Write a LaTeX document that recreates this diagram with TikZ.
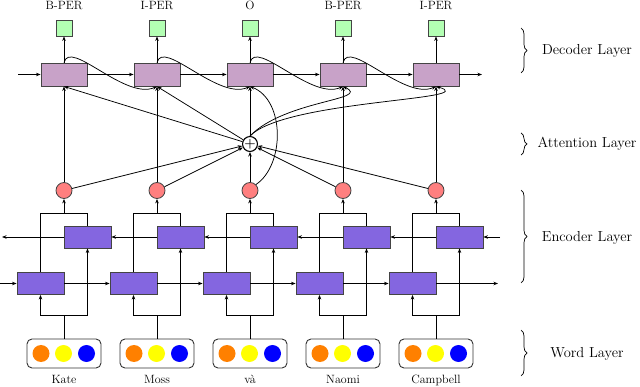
\documentclass[tikz,border=0pt]{standalone}
\usepackage{fontspec}
\usetikzlibrary{arrows.meta,decorations.pathreplacing,calc}
\definecolor{decfill}{HTML}{C8A2C8}
\definecolor{encfill}{HTML}{8466E0}
\definecolor{redc}{HTML}{FF7F7F}
\definecolor{greenc}{HTML}{B3FFB3}
\definecolor{orangec}{HTML}{FF8000}
\definecolor{yellowc}{HTML}{FFFF00}
\definecolor{bluec}{HTML}{0000FF}
\definecolor{edgec}{HTML}{444444}
\begin{document}
\begin{tikzpicture}[x=1pt,y=-1pt,
  >={Stealth[length=4.5pt,width=3.5pt]},
  conn/.style={->,line width=0.75pt},
  plain/.style={line width=0.75pt},
  decbox/.style={draw=edgec,line width=0.9pt,fill=decfill,minimum width=46pt,minimum height=23pt,inner sep=0pt},
  encbox/.style={draw=edgec,line width=0.9pt,fill=encfill,minimum width=47pt,minimum height=22pt,inner sep=0pt},
  outbox/.style={draw=edgec,line width=0.8pt,fill=greenc,minimum size=16pt,inner sep=0pt},
  hid/.style={circle,draw=edgec,line width=0.8pt,fill=redc,minimum size=16pt,inner sep=0pt},
  wordbox/.style={draw=black!80,line width=0.9pt,rounded corners=5pt,minimum width=74pt,minimum height=29pt,inner sep=0pt},
  dot/.style={circle,minimum size=17pt,inner sep=0pt},
  toplab/.style={font=\fontsize{12}{14}\selectfont,anchor=base},
  layerlab/.style={font=\fontsize{14.5}{17}\selectfont,anchor=base},
  brace/.style={decorate,decoration={brace,amplitude=6pt},line width=0.7pt}
]
\useasboundingbox (0,0) rectangle (640,387);

\foreach \i/\x/\t/\w in {1/64/B-PER/Kate, 2/157/I-PER/Moss, 3/250/O/và, 4/343/B-PER/Naomi, 5/436/I-PER/Campbell} {
  \node[toplab] (l\i) at (\x,10) {\t};
  \node[outbox] (g\i) at (\x,28) {};
  \node[decbox] (d\i) at (\x,74.5) {};
  \node[hid] (r\i) at (\x,190.5) {};
  \node[encbox] (b\i) at (\x+23.5,237) {};
  \node[encbox] (f\i) at (\x-23.5,283.5) {};
  \node[wordbox] (w\i) at (\x,353.5) {};
  \node[dot,fill=orangec] (o\i) at (\x-23,353.5) {};
  \node[dot,fill=yellowc] (y\i) at (\x-0.5,353.5) {};
  \node[dot,fill=bluec] (u\i) at (\x+22.5,353.5) {};
  \node[toplab] (t\i) at (\x,383.5) {\w};
  \coordinate (ej\i) at (\x,213);
  \coordinate (wj\i) at (\x,315);
}

\node[circle,draw,line width=1.1pt,fill=white,minimum size=14pt,inner sep=0pt,font=\fontsize{13}{13}\selectfont\bfseries] (P) at (250,144) {+};

% encoder / word connections
\foreach \i in {1,...,5} {
  \draw[conn] (d\i.north) -- (g\i.south);
  \draw[plain] (w\i.north) -- (wj\i);
  \draw[conn] (wj\i) -| (f\i.south);
  \draw[conn] (wj\i) -| (b\i.south);
  \draw[plain] (f\i.north) |- (ej\i);
  \draw[plain] (b\i.north) |- (ej\i);
  \draw[conn] (ej\i) -- (r\i.south);
}

% horizontal chains
\coordinate (din) at (18,74.5);
\coordinate (dout) at (482,74.5);
\coordinate (fin) at (0,283.5);
\coordinate (fout) at (498,283.5);
\coordinate (bin) at (500,237);
\coordinate (bout) at (2,237);
\draw[conn] (din) -- (d1.west);
\draw[conn] (d5.east) -- (dout);
\draw[conn] (fin) -- (f1.west);
\draw[conn] (f5.east) -- (fout);
\draw[conn] (bin) -- (b5.east);
\draw[conn] (b1.west) -- (bout);
\foreach \i/\j in {1/2,2/3,3/4,4/5} {
  \draw[conn] (d\i.east) -- (d\j.west);
  \draw[conn] (f\i.east) -- (f\j.west);
  \draw[conn] (b\j.west) -- (b\i.east);
  \draw[conn] (d\i.north) .. controls +(6,-24) and +(-32,14) .. (d\j.south);
}

% attention
\foreach \i in {1,2,4,5} {
  \draw[conn] (r\i) -- (P);
  \draw[conn] (r\i.north) -- (d\i.south);
}
\draw[conn] (r3) -- (P);
\draw[conn] (P) -- (d3.south);
\draw[conn] (P) -- (d1.south);
\draw[conn] (P) -- (d2.south);
\draw[conn] (P.north) .. controls (285,100) and (372,100) .. (d4.south);
\draw[conn] (P.north) .. controls (285,100) and (485,100) .. (d5.south);
\draw[conn] (r3.north east) .. controls (285,165) and (285,100) .. (d3.south);

% braces and layer labels
\draw[brace] (521,28) -- (521,73);
\draw[brace] (521,133) -- (521,155);
\draw[brace] (521,190) -- (521,283);
\draw[brace] (521,330) -- (521,376);
\node[layerlab] (L1) at (587,55) {Decoder Layer};
\node[layerlab] (L2) at (587,148) {Attention Layer};
\node[layerlab] (L3) at (587,241.5) {Encoder Layer};
\node[layerlab] (L4) at (587,357) {Word Layer};
\end{tikzpicture}
\end{document}
